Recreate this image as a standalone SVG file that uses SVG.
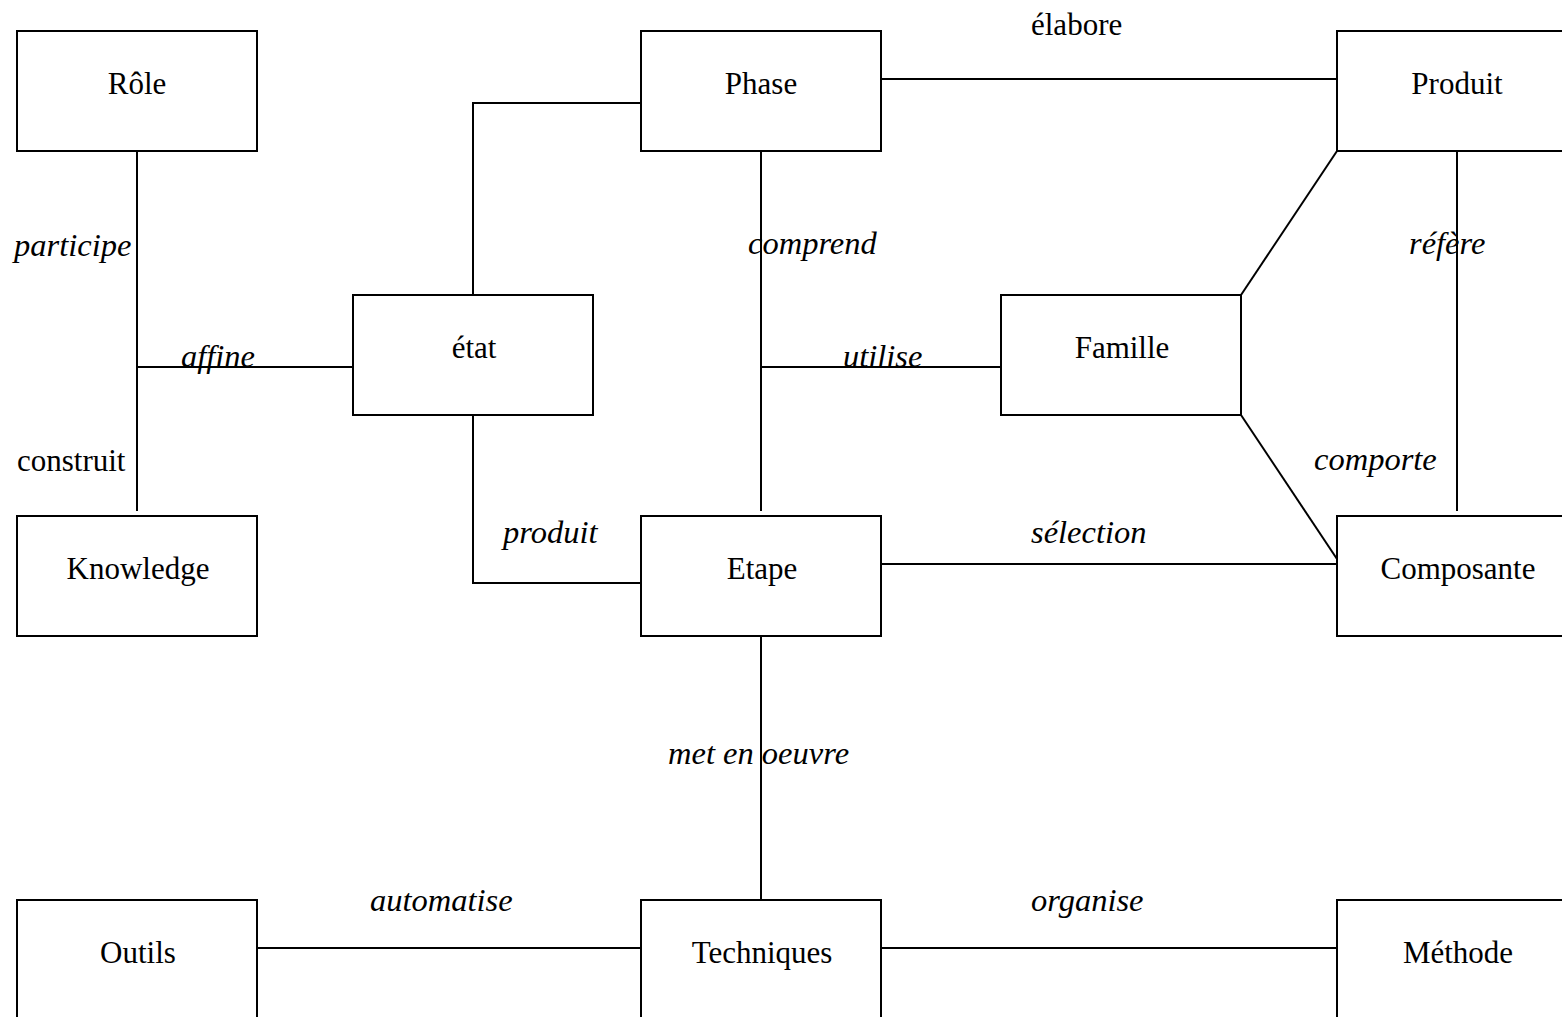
<svg xmlns="http://www.w3.org/2000/svg" width="1562" height="1017" viewBox="0 0 1562 1017">
<style>
.box{fill:#fff;stroke:#000;stroke-width:2}
.ln{fill:none;stroke:#000;stroke-width:2}
.t{font-family:"Liberation Serif","Times New Roman",serif;font-size:31px;fill:#000;text-anchor:middle}
.l{font-family:"Liberation Serif","Times New Roman",serif;font-size:31px;fill:#000}
.i{font-style:italic;font-size:32.5px}
</style>
<rect width="1562" height="1017" fill="#fff"/>
<g id="connectors">
<line class="ln" x1="137" y1="151" x2="137" y2="511"/>
<line class="ln" x1="137" y1="367" x2="353" y2="367"/>
<polyline class="ln" points="473,295 473,103 641,103"/>
<polyline class="ln" points="473,415 473,583 641,583"/>
<line class="ln" x1="761" y1="151" x2="761" y2="511"/>
<line class="ln" x1="761" y1="367" x2="1001" y2="367"/>
<line class="ln" x1="881" y1="79" x2="1337" y2="79"/>
<line class="ln" x1="1337" y1="151" x2="1241" y2="295"/>
<line class="ln" x1="1241" y1="415" x2="1337" y2="559"/>
<line class="ln" x1="1457" y1="151" x2="1457" y2="511"/>
<line class="ln" x1="881" y1="564" x2="1337" y2="564"/>
<line class="ln" x1="761" y1="636" x2="761" y2="900"/>
<line class="ln" x1="257" y1="948" x2="641" y2="948"/>
<line class="ln" x1="881" y1="948" x2="1337" y2="948"/>
</g>
<g id="labels">
<text class="l i" x="14" y="256">participe</text>
<text class="l i" x="181" y="367">affine</text>
<text class="l" x="17" y="471">construit</text>
<text class="l" x="1031" y="35">élabore</text>
<text class="l i" x="748" y="254">comprend</text>
<text class="l i" x="843" y="367">utilise</text>
<text class="l i" x="1409" y="254">réfère</text>
<text class="l i" x="1314" y="470">comporte</text>
<text class="l i" x="503" y="543">produit</text>
<text class="l i" x="1031" y="543">sélection</text>
<text class="l i" x="668" y="764">met en oeuvre</text>
<text class="l i" x="370" y="911">automatise</text>
<text class="l i" x="1031" y="911">organise</text>
</g>
<g id="role"><rect class="box" x="17" y="31" width="240" height="120"/><text class="t" x="137" y="94">Rôle</text></g>
<g id="phase"><rect class="box" x="641" y="31" width="240" height="120"/><text class="t" x="761" y="94">Phase</text></g>
<g id="produit"><rect class="box" x="1337" y="31" width="240" height="120"/><text class="t" x="1457" y="94">Produit</text></g>
<g id="etat"><rect class="box" x="353" y="295" width="240" height="120"/><text class="t" x="474" y="358">état</text></g>
<g id="famille"><rect class="box" x="1001" y="295" width="240" height="120"/><text class="t" x="1122" y="358">Famille</text></g>
<g id="knowledge"><rect class="box" x="17" y="516" width="240" height="120"/><text class="t" x="138" y="579">Knowledge</text></g>
<g id="etape"><rect class="box" x="641" y="516" width="240" height="120"/><text class="t" x="762" y="579">Etape</text></g>
<g id="composante"><rect class="box" x="1337" y="516" width="240" height="120"/><text class="t" x="1458" y="579">Composante</text></g>
<g id="outils"><rect class="box" x="17" y="900" width="240" height="120"/><text class="t" x="138" y="963">Outils</text></g>
<g id="techniques"><rect class="box" x="641" y="900" width="240" height="120"/><text class="t" x="762" y="963">Techniques</text></g>
<g id="methode"><rect class="box" x="1337" y="900" width="240" height="120"/><text class="t" x="1458" y="963">Méthode</text></g>
</svg>
